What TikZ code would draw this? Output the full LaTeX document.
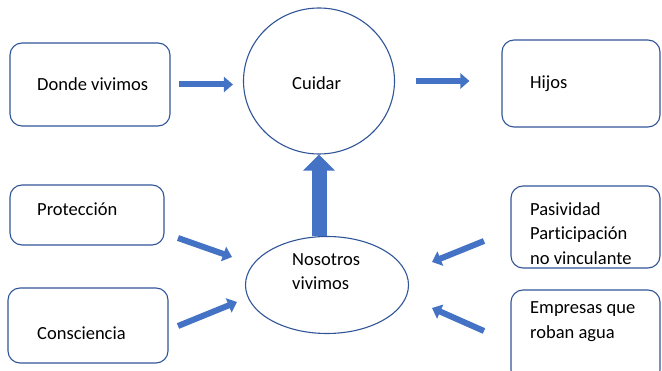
\documentclass[tikz,border=0pt]{standalone}
\usepackage{fontspec}
\setmainfont[Ligatures=NoCommon]{Carlito}
\usetikzlibrary{arrows.meta,shapes.geometric}

\definecolor{boxline}{HTML}{2F5597}
\definecolor{arrowfill}{HTML}{4472C4}

\tikzset{
  box/.style={draw=boxline, line width=1.1pt, rounded corners=12pt, inner sep=0pt},
  oval/.style={draw=boxline, line width=1.1pt, ellipse, inner sep=0pt},
  txt/.style={anchor=west, inner sep=0pt, align=left, font=\fontsize{18.5}{24.5}\selectfont},
  flow/.style={arrowfill, line width=6pt, -{Triangle[width=15pt,length=9pt]}},
  bigflow/.style={arrowfill, line width=15pt, -{Triangle[width=31pt,length=16pt]}},
}

\begin{document}
\begin{tikzpicture}[x=1pt, y=-1pt]
    \useasboundingbox (0,0) rectangle (662,371);
    % boxes and ovals
    \node[box, minimum width=160pt, minimum height=83pt] (donde) at (90,84.5) {};
    \node[oval, minimum width=151pt, minimum height=146pt] (cuidar) at (319,81) {};
    \node[box, minimum width=158pt, minimum height=87pt] (hijos) at (581,83.5) {};
    \node[box, minimum width=154pt, minimum height=60pt] (prot) at (87,215) {};
    \node[box, minimum width=160pt, minimum height=75pt] (consc) at (88,325.5) {};
    \node[oval, minimum width=163pt, minimum height=97pt] (nos) at (327,285) {};
    \node[box, minimum width=149pt, minimum height=82pt] (pasiv) at (585.5,227) {};
    \node[box, minimum width=149pt, minimum height=92pt] (empr) at (585.5,336) {};
    % texts
    \node[txt] (tdonde) at (37,84) {Donde vivimos};
    \node[txt] (tcuidar) at (292,83) {Cuidar};
    \node[txt] (thijos) at (530,84) {Hijos};
    \node[txt] (tprot) at (37,209) {Protección};
    \node[txt] (tconsc) at (37,333) {Consciencia};
    \node[txt] (tnos) at (292,271.5) {Nosotros\\vivimos};
    \node[txt] (tpasiv) at (530,233.5) {Pasividad\\Participación\\no vinculante};
    \node[txt] (tempr) at (530,321.5) {Empresas que\\roban agua};
    % free ends of the slanted arrows
    \coordinate (a1) at (178,238);
    \coordinate (b1) at (232,257);
    \coordinate (a2) at (178,326);
    \coordinate (b2) at (237,302);
    \coordinate (a3) at (484,241);
    \coordinate (b3) at (432,262);
    \coordinate (a4) at (484,331);
    \coordinate (b4) at (432,308);
    % arrows
    \draw[flow, shorten <=8pt, shorten >=10pt] (donde.east) -- (cuidar.west |- donde.east);
    \draw[flow, shorten <=21pt, shorten >=32pt] (cuidar.east) -- (hijos.west |- cuidar.east);
    \draw[bigflow] (cuidar.south |- nos.north) -- (cuidar.south);
    \draw[flow] (a1) -- (b1);
    \draw[flow] (a2) -- (b2);
    \draw[flow] (a3) -- (b3);
    \draw[flow] (a4) -- (b4);
\end{tikzpicture}
\end{document}
